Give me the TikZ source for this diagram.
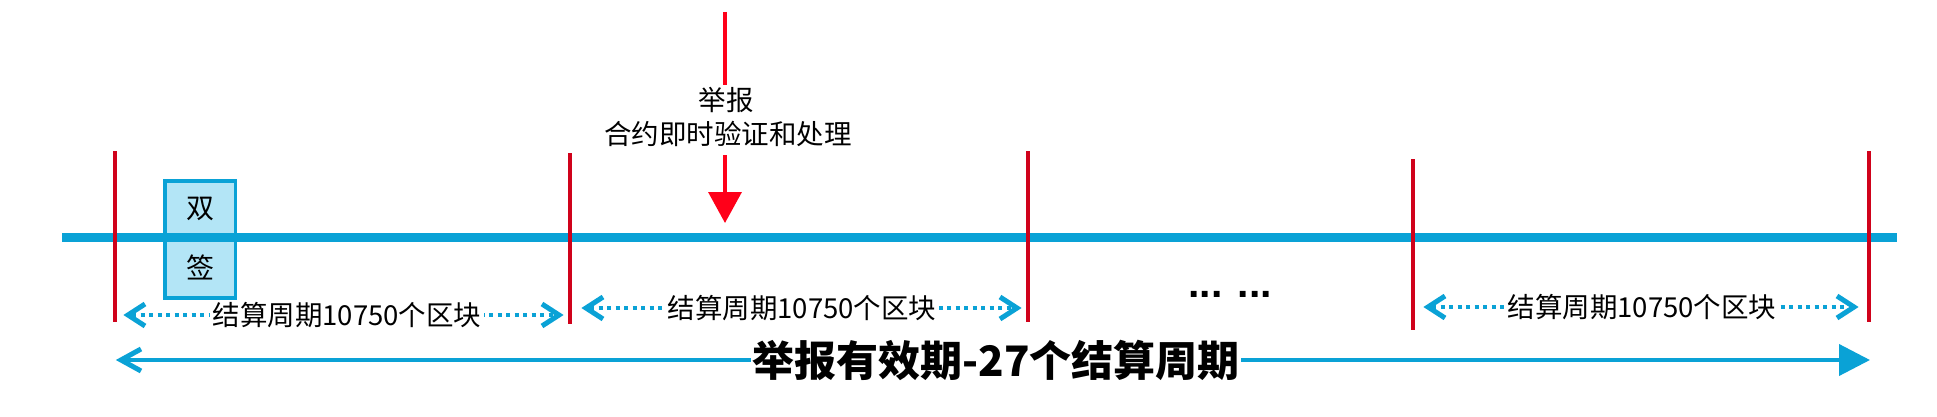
\documentclass[tikz,border=0pt]{standalone}
\usepackage{fontspec}
\setmainfont{Noto Sans CJK SC}
\newfontfamily\dotfont{Liberation Sans}
\usetikzlibrary{arrows.meta}
\definecolor{tlblue}{HTML}{0AA2D6}
\definecolor{boxfill}{HTML}{B3E5F6}
\definecolor{tlred}{HTML}{D0021B}
\definecolor{arrred}{HTML}{FF0019}
\begin{document}
\begin{tikzpicture}[x=1pt,y=-1pt,
  cut/.style={draw=tlred, line width=3.5pt},
  lbl/.style={font=\fontsize{27.5}{30}\selectfont, inner sep=0pt},
  period/.style={draw=tlblue, line width=4pt, dash pattern=on 4pt off 4.5pt, shorten <=4pt, shorten >=4pt},
  chev/.style={draw=tlblue, line width=5pt, line join=miter, miter limit=10},
  plbl/.style={lbl, fill=white, inner xsep=3pt, inner ysep=2pt},
  cell/.style={draw=tlblue, fill=boxfill, line width=3.5pt, minimum width=70.5pt,
     font=\fontsize{28}{30}\selectfont, inner sep=0pt},
  ]
\useasboundingbox (0,0) rectangle (1937,417);

% double-sign box
\node[cell, minimum height=56pt] (dbl) at (200,209) {双};
\node[cell, minimum height=61pt] (sig) at (200,267.6) {签};

% main timeline
\coordinate (tlL) at (62,237);
\coordinate (tlR) at (1897,237);
\draw[tlblue, line width=9pt] (tlL) -- (tlR);

% settlement boundaries
\coordinate (t1) at (115,151);  \coordinate (b1) at (115,322);
\coordinate (t2) at (570,153);  \coordinate (b2) at (570,324);
\coordinate (t3) at (1028,151); \coordinate (b3) at (1028,322);
\coordinate (t4) at (1413,159); \coordinate (b4) at (1413,330);
\coordinate (t5) at (1869,151); \coordinate (b5) at (1869,322);
\foreach \i in {1,...,5} \draw[cut] (t\i) -- (b\i);

% report arrow
\coordinate (r0) at (725,12);
\coordinate (r1) at (725,85);
\coordinate (r2) at (725,155);
\coordinate (r3) at (725,223);
\draw[arrred, line width=3.5pt] (r0) -- (r1);
\draw[arrred, line width=3.5pt, -{Triangle[length=31pt,width=33pt]}] (r2) -- (r3);
\node[lbl] (rep1) at (726,100) {举报};
\node[lbl] (rep2) at (728,133.5) {合约即时验证和处理};

% settlement periods
\coordinate (p1a) at (128,315);  \coordinate (p1b) at (559,315);
\coordinate (p2a) at (586,308);  \coordinate (p2b) at (1017,308);
\coordinate (p3a) at (1428,307); \coordinate (p3b) at (1854,307);
\foreach \p in {1,2,3} {
  \draw[period] (p\p a) -- (p\p b);
  \draw[chev] (p\p a) ++(17,-11) -- (p\p a) -- ++(17,11);
  \draw[chev] (p\p b) ++(-17,-11) -- (p\p b) -- ++(-17,11);
}
\node[plbl] (l1) at (347,315) {结算周期10750个区块};
\node[plbl] (l2) at (802,308) {结算周期10750个区块};
\node[plbl] (l3) at (1642,307) {结算周期10750个区块};

% ellipsis
\node[inner sep=0pt, anchor=base, font=\dotfont\bfseries\fontsize{41}{45}\selectfont] (dots) at (1230,297) {... ...};

% validity arrow
\coordinate (vL) at (121,360);
\coordinate (vR) at (1870,360);
\draw[tlblue, line width=4pt, -{Triangle[length=31pt,width=31pt]}] (vL) -- (vR);
\draw[chev] (vL) ++(20,-11) -- (vL) -- ++(20,11);
\node[fill=white, inner xsep=1pt, inner ysep=0pt, font=\bfseries\fontsize{42}{44}\selectfont] (title) at (996,360) {举报有效期-27个结算周期};
\end{tikzpicture}
\end{document}
